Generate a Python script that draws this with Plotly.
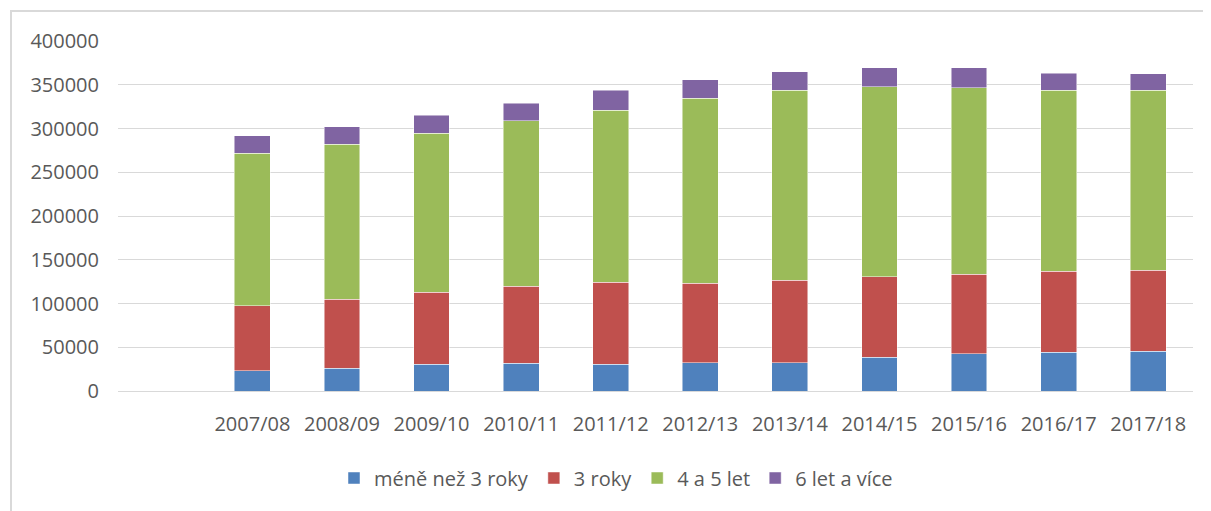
import plotly.graph_objects as go

years = ["2007/08", "2008/09", "2009/10", "2010/11", "2011/12", "2012/13",
         "2013/14", "2014/15", "2015/16", "2016/17", "2017/18"]
mene_nez_3 = [23300, 25900, 30500, 32000, 30500, 32400, 32400, 38500, 42700, 44200, 45700]
tri_roky = [74200, 79100, 82200, 87900, 93900, 90600, 94000, 92100, 90900, 92400, 92400]
ctyri_pet = [174200, 177000, 181800, 189100, 196400, 211500, 217200, 217200, 212700, 207000, 205500]
sest_vice = [19850, 19800, 20500, 19800, 22800, 21000, 21000, 21400, 22900, 19400, 19100]

series = [
    ("méně než 3 roky", mene_nez_3, "#4F81BD"),
    ("3 roky", tri_roky, "#C0504D"),
    ("4 a 5 let", ctyri_pet, "#9BBB59"),
    ("6 let a více", sest_vice, "#8064A2"),
]
y_ticks = [0, 50000, 100000, 150000, 200000, 250000, 300000, 350000, 400000]

FONT = "Open Sans"
GRAY = "#595959"

fig = go.Figure()
for name, vals, col in series:
    fig.add_trace(go.Bar(
        x=years, y=vals, name=name,
        marker=dict(color=col, line=dict(color="rgba(255,255,255,0.6)", width=0.8)),
    ))

# page body has an 8px margin; figure coordinates are screen - 8
OFF = 8
W, H = 1211 - OFF, 511 - OFF
ml, mr, mt, mb = 110, 18, 33, 120
pw, ph = W - ml - mr, H - mt - mb

def px(x):
    return (x - OFF - ml) / pw

def py(y):
    return (H - mb - (y - OFF)) / ph

fig.update_layout(
    width=W, height=H,
    barmode="stack", bargap=0.6,
    paper_bgcolor="white", plot_bgcolor="white",
    margin=dict(l=ml, r=mr, t=mt, b=mb),
    font=dict(family=FONT, size=20, color=GRAY),
    xaxis=dict(
        type="category", categoryorder="array", categoryarray=years,
        range=[-1.5, len(years) - 0.5],
        showgrid=False, showline=False, zeroline=False, ticks="",
        tickfont=dict(family=FONT, size=20, color=GRAY),
        ticklabelstandoff=19,
    ),
    yaxis=dict(
        range=[0, 400000], tickvals=y_ticks, ticktext=[str(v) for v in y_ticks],
        showgrid=True, gridcolor="#D9D9D9", gridwidth=1.3,
        zeroline=True, zerolinecolor="#D9D9D9", zerolinewidth=1.3,
        showline=False, ticks="",
        tickfont=dict(family=FONT, size=20, color=GRAY),
        ticklabelstandoff=18,
    ),
    legend=dict(
        orientation="h", xanchor="center", yanchor="middle",
        x=px(616), y=py(478), traceorder="normal",
        font=dict(family=FONT, size=20, color=GRAY),
        bgcolor="rgba(0,0,0,0)",
    ),
    shapes=[dict(
        type="rect", xref="paper", yref="paper",
        x0=px(11), x1=px(1230), y0=py(530), y1=py(11),
        line=dict(color="#D9D9D9", width=2), fillcolor="rgba(0,0,0,0)",
        layer="below",
    )],
    showlegend=True,
)

fig.write_html("out.html")
